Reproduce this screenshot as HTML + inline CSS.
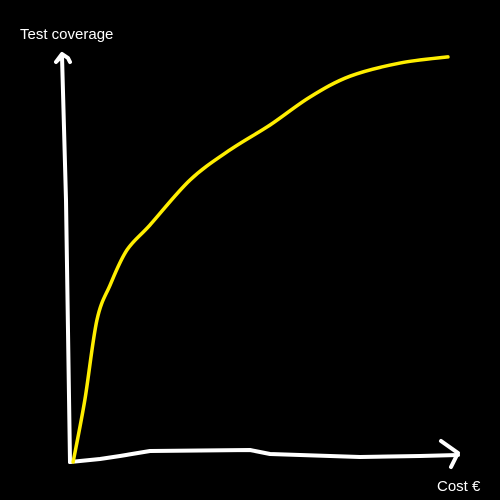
<!DOCTYPE html>
<html><head><meta charset="utf-8"><style>
html,body{margin:0;padding:0;background:#000;width:500px;height:500px;overflow:hidden}
svg{display:block}
text{font-family:"Liberation Sans",sans-serif;fill:#fff;font-size:15px}
</style></head><body>
<svg id="chart" width="500" height="500">
<rect width="500" height="500" fill="#000"/>
<text x="20" y="39">Test coverage</text>
<text x="437" y="491">Cost €</text>
<polyline points="70,462 66,200 62,56 56,62 62,54 68,58 70,62" fill="none" stroke="#fff" stroke-width="4" stroke-linejoin="round" stroke-linecap="round"/>
<polyline points="70,462 100,459 120,456 150,451 250,450 270,454 360,457 420,456 458,455" fill="none" stroke="#fff" stroke-width="4" stroke-linejoin="round" stroke-linecap="round"/>
<polyline points="441,441 458,453 451,467" fill="none" stroke="#fff" stroke-width="4" stroke-linejoin="round" stroke-linecap="round"/>
<g id="series"></g>
</svg>
<script>
const cost = [0.8, 3.8, 6.9, 10.3, 14.6, 20.5, 30.8, 41.0, 51.3, 61.5, 71.8, 84.6, 96.9];
const coverage = [0, 15.1, 34.6, 43.2, 51.7, 57.8, 68.8, 76.1, 82.2, 89.0, 94.1, 97.3, 98.8];
function xScale(v){return 70 + v*3.9;}
function yScale(v){return 462 - v*4.1;}
const pts = cost.map((c,i)=>[xScale(c), yScale(coverage[i])]);
let d = 'M' + pts[0][0] + ',' + pts[0][1];
for (let i=0;i<pts.length-1;i++){
  const p0=pts[Math.max(0,i-1)], p1=pts[i], p2=pts[i+1], p3=pts[Math.min(pts.length-1,i+2)];
  const c1x=p1[0]+(p2[0]-p0[0])/6, c1y=p1[1]+(p2[1]-p0[1])/6;
  const c2x=p2[0]-(p3[0]-p1[0])/6, c2y=p2[1]-(p3[1]-p1[1])/6;
  d += ' C'+c1x+','+c1y+' '+c2x+','+c2y+' '+p2[0]+','+p2[1];
}
const g = document.getElementById('series');
const pl = document.createElementNS('http://www.w3.org/2000/svg','path');
pl.setAttribute('d', d);
pl.setAttribute('fill','none');
pl.setAttribute('stroke','#ffee00');
pl.setAttribute('stroke-width','3.5');
pl.setAttribute('stroke-linejoin','round');
pl.setAttribute('stroke-linecap','round');


g.appendChild(pl);
</script>
</body></html>
